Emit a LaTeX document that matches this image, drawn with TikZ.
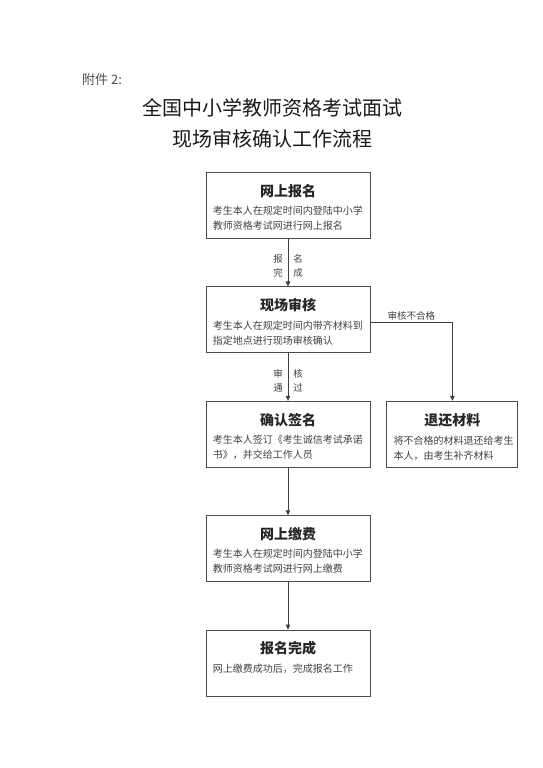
\documentclass[tikz,border=0pt]{standalone}
\usepackage{fontspec}
\setmainfont{Noto Sans CJK SC}
\usepackage{tikz}
\usetikzlibrary{arrows.meta,positioning}
\newcommand{\fsize}[2]{\fontsize{#1}{#2}\selectfont}

\begin{document}
\begin{tikzpicture}[
  x=1pt, y=1pt,
  node distance=47.5pt,
  every node/.style={inner sep=0pt, text=black!80},
  box/.style={draw=black!70, line width=0.9pt, minimum width=164pt, minimum height=66pt},
  sidebox/.style={box, minimum width=131pt},
  head/.style={font=\fsize{14pt}{16pt}\bfseries, text=black!85},
  body/.style={font=\fsize{10pt}{15pt}, align=left, anchor=north west, text=black!75},
  lbl/.style={font=\fsize{9.5pt}{14pt}, align=center, text=black!75},
  arrow/.style={-{Triangle[length=5pt,width=4.5pt]}, line width=0.9pt, draw=black!75}
]
\useasboundingbox (0,0) rectangle (543,-768);
\node[anchor=west, font=\fsize{13pt}{15pt}, text=black!70] (fj) at (82,-80) {附件 2:};
\node[align=center, font=\fsize{20pt}{31pt}, text=black!90] (title) at (272,-123) {全国中小学教师资格考试面试\\现场审核确认工作流程};

% main column
\node[box] (wsbm) at (288,-205.5) {};
\node[box, below=of wsbm] (xcsh) {};
\node[box, below=of xcsh] (qrqm) {};
\node[sidebox, right=16pt of qrqm] (thcl) {};
\node[box, below=of qrqm] (wsjf) {};
\node[box, below=of wsjf] (bmwc) {};

% headings
\node[head] (wsbmh) at ([yshift=-19pt]wsbm.north) {网上报名};
\node[head] (xcshh) at ([yshift=-19pt]xcsh.north) {现场审核};
\node[head] (qrqmh) at ([yshift=-19pt]qrqm.north) {确认签名};
\node[head] (thclh) at ([yshift=-19pt]thcl.north) {退还材料};
\node[head] (wsjfh) at ([yshift=-19pt]wsjf.north) {网上缴费};
\node[head] (bmwch) at ([yshift=-19pt]bmwc.north) {报名完成};

% texts
\node[body] (wsbmt) at ([xshift=7pt,yshift=-34pt]wsbm.north west) {考生本人在规定时间内登陆中小学\\教师资格考试网进行网上报名};
\node[body] (xcsht) at ([xshift=7pt,yshift=-34pt]xcsh.north west) {考生本人在规定时间内带齐材料到\\指定地点进行现场审核确认};
\node[body] (qrqmt) at ([xshift=7pt,yshift=-34pt]qrqm.north west) {考生本人签订《考生诚信考试承诺\\书》，并交给工作人员};
\node[body] (thclt) at ([xshift=7pt,yshift=-35pt]thcl.north west) {将不合格的材料退还给考生\\本人，由考生补齐材料};
\node[body] (wsjft) at ([xshift=7pt,yshift=-34pt]wsjf.north west) {考生本人在规定时间内登陆中小学\\教师资格考试网进行网上缴费};
\node[body] (bmwct) at ([xshift=7pt,yshift=-34pt]bmwc.north west) {网上缴费成功后，完成报名工作};

% connectors
\draw[arrow] (wsbm) -- (xcsh);
\draw[arrow] (xcsh) -- (qrqm);
\draw[arrow] (qrqm) -- (wsjf);
\draw[arrow] (wsjf) -- (bmwc);
\coordinate (bhgs) at ([yshift=-3pt]xcsh.east);
\draw[arrow] (bhgs) -| (thcl.north);

% labels
\node[lbl] (bmwcl) at ([xshift=-10pt,yshift=-27pt]wsbm.south) {报\\完};
\node[lbl] (bmwcr) at ([xshift=10pt,yshift=-27pt]wsbm.south) {名\\成};
\node[lbl] (shtgl) at ([xshift=-10pt,yshift=-27pt]xcsh.south) {审\\通};
\node[lbl] (shtgr) at ([xshift=10pt,yshift=-27pt]xcsh.south) {核\\过};
\node[lbl, anchor=south west] (bhg) at ([xshift=17pt,yshift=2pt]bhgs) {审核不合格};
\end{tikzpicture}
\end{document}
